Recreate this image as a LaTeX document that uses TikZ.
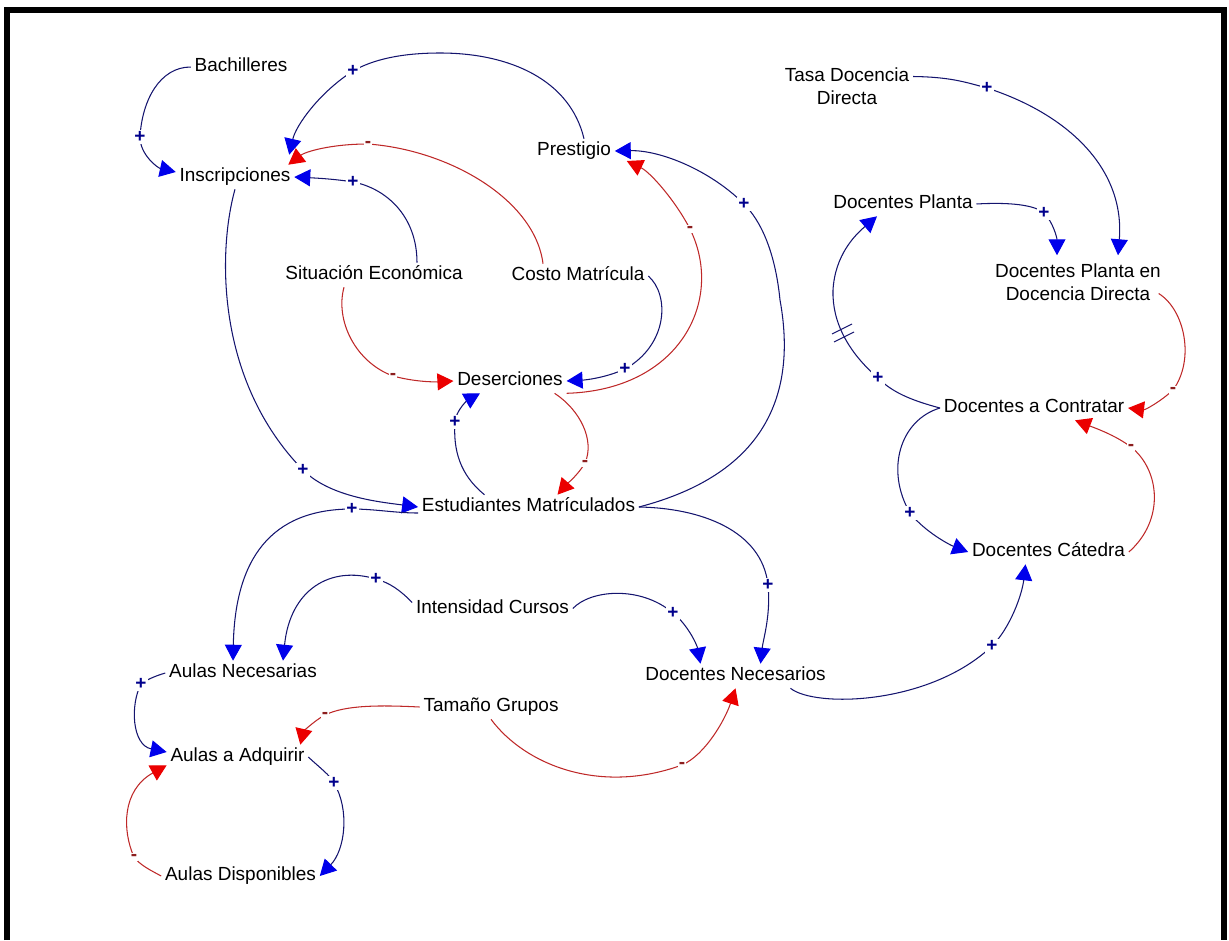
\documentclass[tikz,border=0pt]{standalone}
\usepackage{fontspec}
\setmainfont{Liberation Sans}
\usepackage{tikz}
\usepackage{xcolor}
\usetikzlibrary{arrows.meta, calc}

\definecolor{linkblue}{RGB}{20,20,110}
\definecolor{headblue}{RGB}{0,0,235}
\definecolor{linkred}{RGB}{190,40,40}
\definecolor{headred}{RGB}{235,0,0}
\definecolor{signblue}{RGB}{0,0,140}
\definecolor{signred}{RGB}{140,30,30}

\begin{document}
\begin{tikzpicture}[x=0.02cm, y=-0.02cm,
  var/.style={font=\fontsize{10.8}{13}\selectfont, inner sep=2pt, text height=0.75em, text depth=0.21em},
  vartwo/.style={font=\fontsize{10.8}{13}\selectfont, inner sep=2pt, align=center},
  linkpos/.style={draw=linkblue, line width=0.6pt, -{Triangle[length=3.2mm, width=3.4mm, color=headblue]}},
  linkneg/.style={draw=linkred, line width=0.6pt, -{Triangle[length=3.2mm, width=3.4mm, color=headred]}},
  signplus/.style={fill=white, inner sep=0.6pt, text=signblue, font=\fontsize{10.8}{12}\selectfont\bfseries},
  signminus/.style={fill=white, inner sep=0.6pt, text=signred, font=\fontsize{10.8}{12}\selectfont\bfseries}]
\useasboundingbox (0,0) rectangle (1229,940);
% frame
\draw[line width=0.12cm] (7,940) -- (7,10) -- (1223.5,10) -- (1223.5,940);

% students
\node[var] (bach) at (241,67) {Bachilleres};
\node[var] (insc) at (235,177) {Inscripciones};
\node[var] (pres) at (574,151) {Prestigio};
\node[var] (situ) at (374,275) {Situación Económica};
\node[var] (costo) at (578,276) {Costo Matrícula};
\node[var] (deser) at (510,381) {Deserciones};
\node[var] (estud) at (528.5,507) {Estudiantes Matrículados};
% teachers
\node[vartwo] (tasa) at (847,86.5) {Tasa Docencia\\Directa};
\node[var] (dplanta) at (903,204) {Docentes Planta};
\node[vartwo] (dpdd) at (1078,282.5) {Docentes Planta en\\Docencia Directa};
\node[var] (dcontr) at (1034,408) {Docentes a Contratar};
\node[var] (dcat) at (1048.5,552) {Docentes Cátedra};
\node[var] (dnec) at (735.5,676) {Docentes Necesarios};
% classrooms
\node[var] (inten) at (492.5,608.5) {Intensidad Cursos};
\node[var] (anec) at (243,673) {Aulas Necesarias};
\node[var] (tam) at (491,707) {Tamaño Grupos};
\node[var] (aadq) at (237.5,757) {Aulas a Adquirir};
\node[var] (adisp) at (240.5,876) {Aulas Disponibles};

% links into Inscripciones
\draw[linkpos] (bach.west) .. controls (160,67) and (142,100) .. (140,137) node[signplus] {+}
  .. controls (140,155) and (158,168) .. ($(insc.west)+(0,-5)$);
\draw[linkpos] ($(pres.north)+(10,0)$) .. controls (570,80) and (510,53) .. (440,53)
  .. controls (400,53) and (372,60) .. (353,71) node[signplus] {+}
  .. controls (320,92) and (296,125) .. ($(insc.north east)+(-5,-10)$);
\draw[linkneg] ($(costo.north)+(-35,0)$) .. controls (535,200) and (450,150) .. (368,144) node[signminus] {-}
  .. controls (330,144) and (305,152) .. ($(insc.north east)+(-6,0)$);
\draw[linkpos] ($(situ.north)+(43,0)$) .. controls (417,215) and (385,188) .. (353,182) node[signplus] {+}
  .. controls (335,179) and (315,178) .. (insc.east);

% Deserciones and Estudiantes
\draw[linkpos] (insc.south) .. controls (218,250) and (215,380) .. (303,470) node[signplus] {+}
  .. controls (330,497) and (380,502) .. (estud.west);
\draw[linkneg] ($(situ.south)+(-30,0)$) .. controls (335,320) and (355,362) .. (393,376) node[signminus] {-}
  .. controls (415,382) and (435,382) .. (deser.west);
\draw[linkpos] (costo.east) .. controls (670,295) and (668,345) .. (625,369) node[signplus] {+}
  .. controls (605,378) and (585,380) .. (deser.east);
\draw[linkpos] ($(estud.north)+(-44,0)$) .. controls (460,475) and (453,450) .. (455,422) node[signplus] {+}
  .. controls (456,410) and (468,400) .. ($(deser.south)+(-30,0)$);
\draw[linkneg] ($(deser.south east)+(-12,0)$) .. controls (580,410) and (595,440) .. (585,463) node[signminus] {-}
  .. controls (578,475) and (566,485) .. ($(estud.north)+(29,0)$);
\draw[linkneg] (deser.south east) .. controls (680,390) and (725,300) .. (690,229) node[signminus] {-}
  .. controls (675,200) and (650,172) .. ($(pres.east)+(12,10)$);
\draw[linkpos] (estud.east) .. controls (750,478) and (800,410) .. (780,300)
  .. controls (775,250) and (760,220) .. (744,204) node[signplus] {+}
  .. controls (710,170) and (660,150) .. (pres.east);

% Docentes
\draw[linkpos] (estud.east) .. controls (700,508) and (762,530) .. (768,585) node[signplus] {+}
  .. controls (771,615) and (763,640) .. ($(dnec.north)+(25,0)$);
\draw[linkpos] (inten.east) .. controls (590,590) and (640,585) .. (673,613) node[signplus] {+}
  .. controls (688,625) and (697,645) .. ($(dnec.north)+(-35,0)$);
\draw[linkneg] (tam.south) .. controls (525,765) and (600,795) .. (682,765) node[signminus] {-}
  .. controls (705,755) and (725,720) .. (dnec.south);
\draw[linkpos] ($(dnec.south)+(55,0)$) .. controls (815,708) and (930,705) .. (992,646) node[signplus] {+}
  .. controls (1010,628) and (1022,595) .. ($(dcat.south)+(-23,0)$);
\draw[linkpos] (dcontr.west) .. controls (900,420) and (885,470) .. (910,513) node[signplus] {+}
  .. controls (925,532) and (950,545) .. (dcat.west);
\draw[linkpos] (dcontr.west) .. controls (910,400) and (892,392) .. (878,378) node[signplus] {+}
  .. controls (848,352) and (832,322) .. (833,290)
  .. controls (835,255) and (855,235) .. ($(dplanta.south)+(-26,0)$);
% delay
\draw[linkblue, line width=0.6pt] (832,334) -- (852,324) (834,342) -- (854,332);
\draw[linkpos] (dplanta.east) .. controls (1010,202) and (1035,205) .. (1044,213) node[signplus] {+}
  .. controls (1053,222) and (1057,238) .. ($(dpdd.north)+(-21,-5)$);
\draw[linkpos] ($(tasa.east)+(0,-10)$) .. controls (950,77) and (965,82) .. (987,88) node[signplus] {+}
  .. controls (1070,115) and (1125,170) .. ($(dpdd.north)+(40,-5)$);
\draw[linkneg] ($(dpdd.east)+(-6,11)$) .. controls (1185,310) and (1195,360) .. (1173,390) node[signminus] {-}
  .. controls (1160,402) and (1145,410) .. (dcontr.east);
\draw[linkneg] (dcat.east) .. controls (1165,520) and (1160,470) .. (1131,447) node[signminus] {-}
  .. controls (1115,435) and (1095,428) .. ($(dcontr.south)+(41,0)$);

% Aulas
\draw[linkpos] ($(estud.west)+(0,6)$) .. controls (395,513) and (375,509) .. (352,509) node[signplus] {+}
  .. controls (270,509) and (235,560) .. ($(anec.north)+(-10,0)$);
\draw[linkpos] ($(inten.west)+(0,-6)$) .. controls (400,590) and (390,583) .. (376,579) node[signplus] {+}
  .. controls (330,565) and (290,590) .. ($(anec.north)+(40,0)$);
\draw[linkpos] (anec.west) .. controls (155,676) and (146,680) .. (141,684) node[signplus] {+}
  .. controls (130,705) and (132,745) .. ($(aadq.west)+(0,-5)$);
\draw[linkneg] (tam.west) .. controls (380,705) and (345,705) .. (325,715) node[signminus] {-}
  .. controls (312,722) and (303,733) .. ($(aadq.north east)+(-8,0)$);
\draw[linkpos] (aadq.east) .. controls (320,768) and (330,775) .. (334,783) node[signplus] {+}
  .. controls (350,810) and (345,850) .. (adisp.east);
\draw[linkneg] (adisp.west) .. controls (150,870) and (140,865) .. (134,857) node[signminus] {-}
  .. controls (122,830) and (122,790) .. ($(aadq.south west)+(0,-4)$);
\end{tikzpicture}
\end{document}
